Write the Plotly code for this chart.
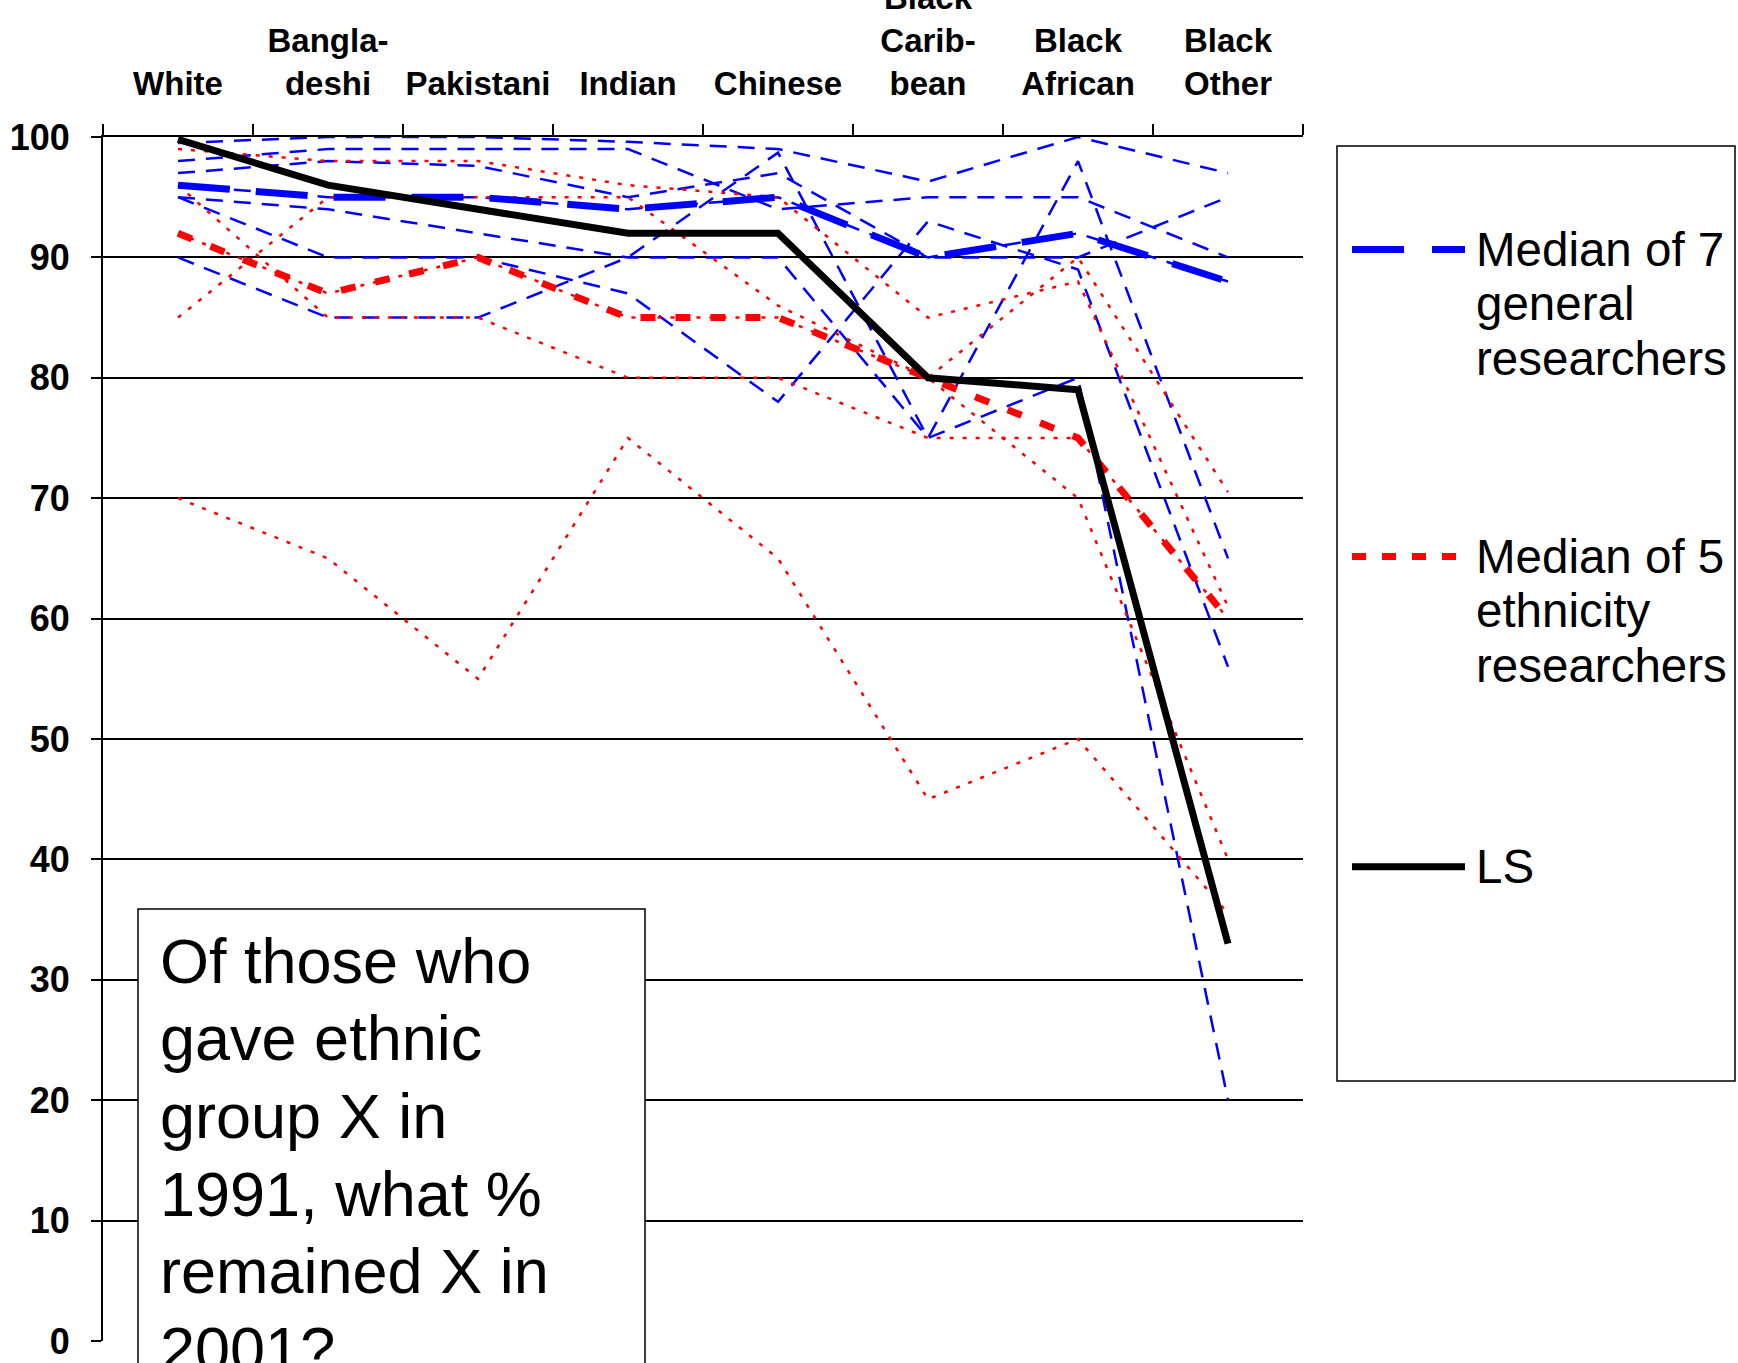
import plotly.graph_objects as go

# ---------------- data ----------------
categories = ["White", "Bangladeshi", "Pakistani", "Indian", "Chinese",
              "Black Caribbean", "Black African", "Black Other"]
tick_labels = ["White", "Bangla-<br>deshi", "Pakistani", "Indian", "Chinese",
               "Black<br>Carib-<br>bean", "Black<br>African", "Black<br>Other"]
y_ticks = [0, 10, 20, 30, 40, 50, 60, 70, 80, 90, 100]

# 7 general researchers (thin blue dashed)
general_1 = [99.5, 100, 100, 99.6, 99, 96.3, 100, 97]
general_2 = [90, 85, 85, 90, 98.7, 75, 98, 65]
general_3 = [95, 90, 90, 87, 78, 93, 89, 56]
general_4 = [95, 94, 92, 90, 90, 75, 80, 20]
general_5 = [97, 98, 97.6, 95, 97, 90, 90, 95]
general_6 = [96, 95, 95, 94, 95, 90, 92, 88]
general_7 = [98, 99, 99, 99, 94, 95, 95, 90]

# 5 ethnicity researchers (thin red dotted)
ethnicity_1 = [70, 65, 55, 75, 65, 45, 50, 35.5]
ethnicity_2 = [99, 98, 98, 96, 95, 85, 88, 61]
ethnicity_3 = [85, 95, 95, 95, 86, 80, 90, 70.5]
ethnicity_4 = [92, 87, 90, 85, 85, 80, 70, 40]
ethnicity_5 = [96, 85, 85, 80, 80, 75, 75, 60]

median_general = [96, 95, 95, 94, 95, 90, 92, 88]
median_ethnicity = [92, 87, 90, 85, 85, 80, 75, 60]
ls_values = [99.8, 96, 94, 92, 92, 80, 79, 33]

legend_general = ["Median of 7", "general", "researchers"]
legend_ethnicity = ["Median of 5", "ethnicity", "researchers"]
legend_ls = ["LS"]
note_lines = ["Of those who", "gave ethnic", "group X in", "1991, what %",
              "remained X in", "2001?"]

# ---------------- layout geometry ----------------
W, H = 1738, 1363
PW, PH = 1200, 1204
ML, MT = 103, 137
MR, MB = W - ML - PW, H - MT - PH


# helpers: page pixel -> paper coordinates
def px(x):
    return (x - ML) / PW


def py(y):
    return (MT + PH - y) / PH


FONT = "Liberation Sans, Arial, sans-serif"
BLUE = "#0000FF"
RED = "#FF0000"

fig = go.Figure()

for g in [general_1, general_2, general_3, general_4, general_5, general_6, general_7]:
    fig.add_trace(go.Scatter(x=categories, y=g, mode="lines", showlegend=False,
                             hoverinfo="skip",
                             line=dict(color=BLUE, width=2.5, dash="17px,11px")))
for e in [ethnicity_1, ethnicity_2, ethnicity_3, ethnicity_4, ethnicity_5]:
    fig.add_trace(go.Scatter(x=categories, y=e, mode="lines", showlegend=False,
                             hoverinfo="skip",
                             line=dict(color=RED, width=2.5, dash="4px,9px")))

fig.add_trace(go.Scatter(x=categories, y=median_general, mode="lines", showlegend=False,
                         line=dict(color=BLUE, width=7, dash="52px,26px")))
fig.add_trace(go.Scatter(x=categories, y=median_ethnicity, mode="lines", showlegend=False,
                         line=dict(color=RED, width=7, dash="15px,20px")))
fig.add_trace(go.Scatter(x=categories, y=ls_values, mode="lines", showlegend=False,
                         line=dict(color="black", width=7)))

fig.update_layout(
    width=W, height=H,
    margin=dict(l=ML, r=MR, t=MT, b=MB, pad=0, autoexpand=False),
    paper_bgcolor="white", plot_bgcolor="white",
    showlegend=False,
    font=dict(family=FONT, color="black"),
)

fig.update_xaxes(
    type="category", categoryorder="array", categoryarray=categories,
    tickvals=categories, ticktext=tick_labels, tickangle=0,
    range=[-0.5, 7.5], side="top", automargin=False,
    showline=True, linecolor="black", linewidth=2,
    ticks="outside", tickson="boundaries", ticklen=11, tickwidth=2, tickcolor="black",
    showgrid=False, zeroline=False,
    tickfont=dict(family=FONT, size=33, color="black", weight="bold"),
    ticklabelstandoff=27,
)
fig.update_yaxes(
    range=[0, 100], tickvals=y_ticks, automargin=False,
    showline=True, linecolor="black", linewidth=2,
    ticks="outside", ticklen=10, tickwidth=2, tickcolor="black",
    showgrid=True, gridcolor="black", gridwidth=2, zeroline=False,
    tickfont=dict(family=FONT, size=36, color="black", weight="bold"),
    ticklabelstandoff=14,
)

shapes = []
annotations = []

# note box
shapes.append(dict(type="rect", xref="paper", yref="paper",
                   x0=px(138), x1=px(645), y0=py(1420), y1=py(909),
                   line=dict(color="black", width=1.5), fillcolor="white", layer="above"))
for i, t in enumerate(note_lines):
    baseline = 982 + i * 77.7
    annotations.append(dict(xref="paper", yref="paper", x=px(158), y=py(baseline - 21.5),
                            xanchor="left", yanchor="middle", showarrow=False, text=t,
                            font=dict(family=FONT, size=63, color="black")))

# legend box
shapes.append(dict(type="rect", xref="paper", yref="paper",
                   x0=px(1337), x1=px(1735), y0=py(1081), y1=py(146),
                   line=dict(color="black", width=1.5), fillcolor="white", layer="above"))

legend_items = [
    (legend_general, 249.4, dict(color=BLUE, width=7, dash="52px,28px")),
    (legend_ethnicity, 556.4, dict(color=RED, width=7, dash="14px,16px")),
    (legend_ls, 866.8, dict(color="black", width=7)),
]
for lines, y0, style in legend_items:
    shapes.append(dict(type="line", xref="paper", yref="paper",
                       x0=px(1352), x1=px(1465), y0=py(y0), y1=py(y0),
                       line=style, layer="above"))
    for j, t in enumerate(lines):
        annotations.append(dict(xref="paper", yref="paper", x=px(1474), y=py(y0 + j * 54.3),
                                xanchor="left", yanchor="middle", showarrow=False, text=t,
                                font=dict(family=FONT, size=47.5, color="black")))

fig.update_layout(shapes=shapes, annotations=annotations)

fig.write_html(
    "out.html",
    config=dict(displayModeBar=False),
    post_script="document.body.style.margin='0';document.body.style.overflow='hidden';",
)
